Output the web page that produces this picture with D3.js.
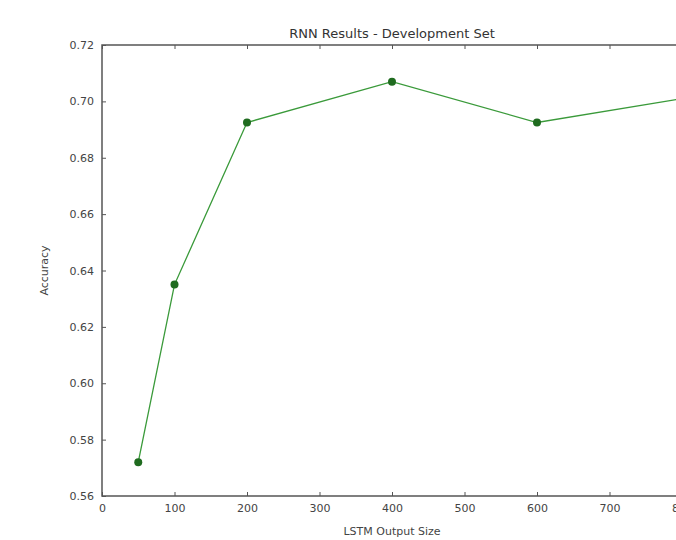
<!DOCTYPE html>
<html>
<head>
<meta charset="utf-8">
<script src="https://cdn.jsdelivr.net/npm/d3@7"></script>
<style>
  body { margin: 0; background: #fff; overflow: hidden; }
  svg text { font-family: "DejaVu Sans", sans-serif; fill: #333; }
</style>
</head>
<body>
<div id="chart"></div>
<script>
// LSTM output size vs dev accuracy
const sizes = [50, 100, 200, 400, 600, 800];
const accuracy = [0.572, 0.635, 0.6925, 0.707, 0.6925, 0.701];
const xTicks = [0, 100, 200, 300, 400, 500, 600, 700, 800];
const yTicks = [0.56, 0.58, 0.60, 0.62, 0.64, 0.66, 0.68, 0.70, 0.72];

const W = 676, H = 540;
const margin = { top: 45, left: 102 };
const plotW = 580, plotH = 451;

const svg = d3.select("#chart").append("svg")
  .attr("width", W).attr("height", H);

const g = svg.append("g")
  .attr("transform", `translate(${margin.left},${margin.top})`);

const x = d3.scaleLinear().domain([0, 800]).range([0, plotW]);
const y = d3.scaleLinear().domain([0.56, 0.72]).range([plotH, 0]);

// inward ticks on all sides, matplotlib classic style
const tickLen = 4;
g.append("g").attr("transform", `translate(0,${plotH})`)
  .call(d3.axisBottom(x).tickValues(xTicks).tickFormat(d3.format("d")).tickSize(-tickLen).tickPadding(8))
  .call(a => a.select(".domain").remove());
g.append("g")
  .call(d3.axisTop(x).tickValues(xTicks).tickSize(-tickLen).tickFormat(""))
  .call(a => a.select(".domain").remove());
g.append("g")
  .call(d3.axisLeft(y).tickValues(yTicks).tickFormat(d3.format(".2f")).tickSize(-tickLen).tickPadding(8))
  .call(a => a.select(".domain").remove());
g.append("g").attr("transform", `translate(${plotW},0)`)
  .call(d3.axisRight(y).tickValues(yTicks).tickSize(-tickLen).tickFormat(""))
  .call(a => a.select(".domain").remove());

g.selectAll(".tick text").style("font-size", "11px").style("fill", "#444");
g.selectAll(".tick line").attr("stroke", "#555");

// frame
g.append("rect")
  .attr("width", plotW).attr("height", plotH)
  .attr("fill", "none").attr("stroke", "#555").attr("stroke-width", 1.5);

const pts = sizes.map((s, i) => [s, accuracy[i]]);

g.append("path")
  .datum(pts)
  .attr("fill", "none")
  .attr("stroke", "#3a9a3a")
  .attr("stroke-width", 1.3)
  .attr("d", d3.line().x(d => x(d[0])).y(d => y(d[1])));

g.selectAll("circle.pt")
  .data(pts)
  .enter()
  .append("circle")
    .attr("class", "pt")
    .attr("cx", d => x(d[0]))
    .attr("cy", d => y(d[1]))
    .attr("r", 4)
    .attr("fill", "#1f6b1f");

// title and labels
svg.append("text")
  .attr("x", margin.left + plotW / 2).attr("y", 38)
  .attr("text-anchor", "middle")
  .style("font-size", "13px")
  .text("RNN Results - Development Set");

svg.append("text")
  .attr("x", margin.left + plotW / 2).attr("y", 535)
  .attr("text-anchor", "middle")
  .style("font-size", "11px").style("fill", "#444")
  .text("LSTM Output Size");

svg.append("text")
  .attr("transform", `translate(48,${margin.top + plotH / 2}) rotate(-90)`)
  .attr("text-anchor", "middle")
  .style("font-size", "11px").style("fill", "#444")
  .text("Accuracy");
</script>
</body>
</html>
